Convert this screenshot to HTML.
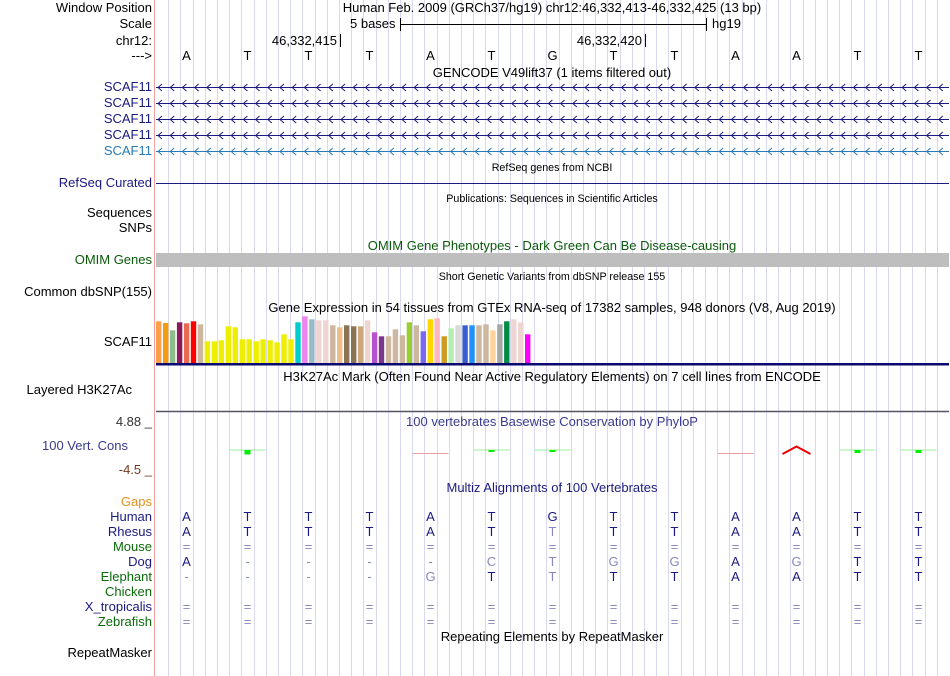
<!DOCTYPE html>
<html><head><meta charset="utf-8"><style>
body{margin:0;background:#fff;}
svg{display:block;font-family:"Liberation Sans",sans-serif;}
</style></head><body>
<svg id="g" width="950" height="676" viewBox="0 0 950 676">
<g id="grid"></g>
<line x1="154.5" y1="0" x2="154.5" y2="676" stroke="#f4a0a0" stroke-width="1"/>
<g font-size="13" text-anchor="end" fill="#000">
<text x="152" y="12">Window Position</text>
<text x="152" y="28">Scale</text>
<text x="152" y="45">chr12:</text>
<text x="152" y="60">---&gt;</text>
<text x="152" y="91" fill="#1a1a80">SCAF11</text>
<text x="152" y="107" fill="#1a1a80">SCAF11</text>
<text x="152" y="123" fill="#1a1a80">SCAF11</text>
<text x="152" y="139" fill="#1a1a80">SCAF11</text>
<text x="152" y="155" fill="#2a7ab8">SCAF11</text>
<text x="152" y="187" fill="#1a1a80">RefSeq Curated</text>
<text x="152" y="217">Sequences</text>
<text x="152" y="232">SNPs</text>
<text x="152" y="264" fill="#0a5a0a">OMIM Genes</text>
<text x="152" y="296">Common dbSNP(155)</text>
<text x="152" y="346">SCAF11</text>
<text x="132" y="394">Layered H3K27Ac</text>
<text x="152" y="426" fill="#333">4.88 _</text>
<text x="128" y="450" fill="#3a3a90">100 Vert. Cons</text>
<text x="152" y="474" fill="#7a3a1a">-4.5 _</text>
<text x="152" y="506" fill="#e89020">Gaps</text>
<text x="152" y="521" fill="#1a1a80">Human</text>
<text x="152" y="536" fill="#1a1a80">Rhesus</text>
<text x="152" y="551" fill="#0a6a0a">Mouse</text>
<text x="152" y="566" fill="#1a1a80">Dog</text>
<text x="152" y="581" fill="#0a6a0a">Elephant</text>
<text x="152" y="596" fill="#0a6a0a">Chicken</text>
<text x="152" y="611" fill="#1a1a80">X_tropicalis</text>
<text x="152" y="626" fill="#0a6a0a">Zebrafish</text>
<text x="152" y="657">RepeatMasker</text>
</g>
<g font-size="13" text-anchor="middle">
<text x="552" y="12">Human Feb. 2009 (GRCh37/hg19)   chr12:46,332,413-46,332,425 (13 bp)</text>
<text x="552" y="77">GENCODE V49lift37 (1 items filtered out)</text>
<text x="552" y="312">Gene Expression in 54 tissues from GTEx RNA-seq of 17382 samples, 948 donors (V8, Aug 2019)</text>
<text x="552" y="381">H3K27Ac Mark (Often Found Near Active Regulatory Elements) on 7 cell lines from ENCODE</text>
<text x="552" y="426" fill="#3a3a90">100 vertebrates Basewise Conservation by PhyloP</text>
<text x="552" y="492" fill="#1a1a80">Multiz Alignments of 100 Vertebrates</text>
<text x="552" y="641">Repeating Elements by RepeatMasker</text>
<text x="552" y="250" fill="#0a5a0a">OMIM Gene Phenotypes - Dark Green Can Be Disease-causing</text>
</g>
<g font-size="10.7" text-anchor="middle">
<text x="552" y="171">RefSeq genes from NCBI</text>
<text x="552" y="202">Publications: Sequences in Scientific Articles</text>
<text x="552" y="280">Short Genetic Variants from dbSNP release 155</text>
</g>
<g>
<text x="350" y="28" font-size="13">5 bases</text>
<line x1="400" y1="24.5" x2="706" y2="24.5" stroke="#000"/>
<line x1="400.5" y1="18" x2="400.5" y2="31" stroke="#000"/>
<line x1="706.5" y1="18" x2="706.5" y2="31" stroke="#000"/>
<text x="712" y="28" font-size="13">hg19</text>
<text x="337" y="45" font-size="13" text-anchor="end">46,332,415</text>
<line x1="340.5" y1="34" x2="340.5" y2="47" stroke="#000"/>
<text x="642" y="45" font-size="13" text-anchor="end">46,332,420</text>
<line x1="645.5" y1="34" x2="645.5" y2="47" stroke="#000"/>
</g>
<g id="genes"></g>
<line x1="156" y1="183.5" x2="949" y2="183.5" stroke="#1a1a80"/>
<rect x="156" y="253" width="793" height="14" fill="#bebebe"/>
<g id="bases" font-size="13" text-anchor="middle"></g>
<g id="gtex"></g>
<rect x="156" y="363" width="793" height="2.5" fill="#0a0a70"/>
<line x1="156" y1="411.5" x2="949" y2="411.5" stroke="#556" stroke-width="1.5"/>
<g id="cons"></g>
<g id="aln" font-size="13" text-anchor="middle"></g>
</svg>
<script>
const NS="http://www.w3.org/2000/svg";
function mk(t,a,p){const e=document.createElementNS(NS,t);for(const k in a)e.setAttribute(k,a[k]);p.appendChild(e);return e;}
const bases=["A","T","T","T","A","T","G","T","T","A","A","T","T"];
const gtexValues=[41.7,40,32.7,40.7,39.7,41.7,38.7,21.7,21.7,22.7,36.7,35.7,23.7,23.7,21.7,23.7,22.7,20.7,28.7,23.7,40.7,46.7,43.7,42.7,42.7,37.7,35.7,37.7,36.7,36.7,42.7,30.7,26.7,26.7,33.7,27.7,40.7,37.7,31.7,43.7,44.7,26.7,34.7,37.7,37.7,37.7,37.7,38.7,32.7,38.7,41.7,43.7,40.7,28.7];
const gtexColors=["#ff9f4a","#f39c12","#8fbc8f","#8b1a5a","#ea6a50","#ff0000","#cdb79e","#eeee00","#eeee00","#eeee00","#eeee00","#eeee00","#eeee00","#eeee00","#eeee00","#eeee00","#eeee00","#eeee00","#eeee00","#eeee00","#00cdcd","#ee82ee","#9ab8c8","#eed5d2","#eed5d2","#cdb79e","#ecbe8a","#8b7355","#8b7355","#cdaa7d","#eed5d2","#b452cd","#7a378b","#cdb79e","#cdb79e","#cdb79e","#9acd32","#cdb79e","#7b68ee","#ffd700","#ffb6c1","#cd9b1d","#b4eeb4","#d9d9d9","#3a5fcd","#1e90ff","#cdb79e","#cdb79e","#ffd39b","#a6a6a6","#008b45","#eed5d2","#eed5d2","#ff00ff"];
const consValues=[0,1.5,0,0,-0.2,0.6,0.6,0,0,-0.2,-1.5,1,1];
const human=["A","T","T","T","A","T","G","T","T","A","A","T","T"];
const rhesus=["A","T","T","T","A","T","T","T","T","A","A","T","T"];
const dog=["A","-","-","-","-","C","T","G","G","A","G","T","T"];
const elephant=["-","-","-","-","G","T","T","T","T","A","A","T","T"];
const X0=156,W=793,bw=W/13;
const bx=i=>X0+bw*(i+0.5);
const grid=document.getElementById('grid');
for(let k=1;k<65;k++){const x=Math.round(X0+k*W/65)+0.5;const l=mk('line',{x1:x,y1:0,x2:x,y2:676,stroke:'#d8d8f0'},grid);

}
const B=document.getElementById('bases');
bases.forEach((b,i)=>{const t=mk('text',{x:bx(i),y:60},B);t.textContent=b;

});
const G=document.getElementById('genes');
[87,103,119,135,151].forEach((y,i)=>{
 const c=i==4?'#2a7ab8':'#1a1a80';
 const yy=y+0.5;
 const l=mk('line',{x1:156,y1:yy,x2:949,y2:yy,stroke:c},G);
 
 
 let d='';
 for(let x=158;x<948;x+=12.2){d+=`M${(x+4).toFixed(1)} ${yy-3.5} L${x.toFixed(1)} ${yy} L${(x+4).toFixed(1)} ${yy+3.5} `;}
 const p=mk('path',{d:d,fill:'none',stroke:c,"stroke-width":1},G);
 
 
});
const GT=document.getElementById('gtex');
const base=363,gw=376/54;
gtexValues.forEach((v,i)=>{const r=mk('rect',{x:(156+i*gw).toFixed(1),y:base-v,width:(gw-1.6).toFixed(1),height:v,fill:gtexColors[i]},GT);

});
const C=document.getElementById('cons');
consValues.forEach((v,i)=>{if(v===0)return;const x=bx(i);
 if(v>0){const l=mk('line',{x1:x-18,y1:450,x2:x+18,y2:450,stroke:'#9e9',"stroke-width":1},C);
 
 
 const r=mk('rect',{x:x-3,y:450,width:6,height:Math.max(2,v*3),fill:'#00ee00'},C);
 
 }
 else if(v>-1){const l=mk('line',{x1:x-18,y1:453.5,x2:x+18,y2:453.5,stroke:'#e8a0a0'},C);
 
 }
 else{const p=mk('path',{d:`M${x-14} 454 L${x} ${454+v*5} L${x+14} 454`,fill:'none',stroke:'#ee0000',"stroke-width":2},C);
 
 }
});
const A=document.getElementById('aln');
const dark='#1a1a80',light='#8888bb';
function row(arr,y,ref){arr.forEach((c,i)=>{const t=mk('text',{x:bx(i),y:y,fill:(ref&&c!==ref[i]&&c!=='-'&&c!=='=')||c==='-'||c==='='?light:dark},A);t.textContent=c;

});}
row(human,521,null);row(rhesus,536,human);
row(bases.map(()=> '='),551,null);row(dog,566,human);row(elephant,581,human);
row(bases.map(()=> '='),611,null);row(bases.map(()=> '='),626,null);
</script>
</body></html>
